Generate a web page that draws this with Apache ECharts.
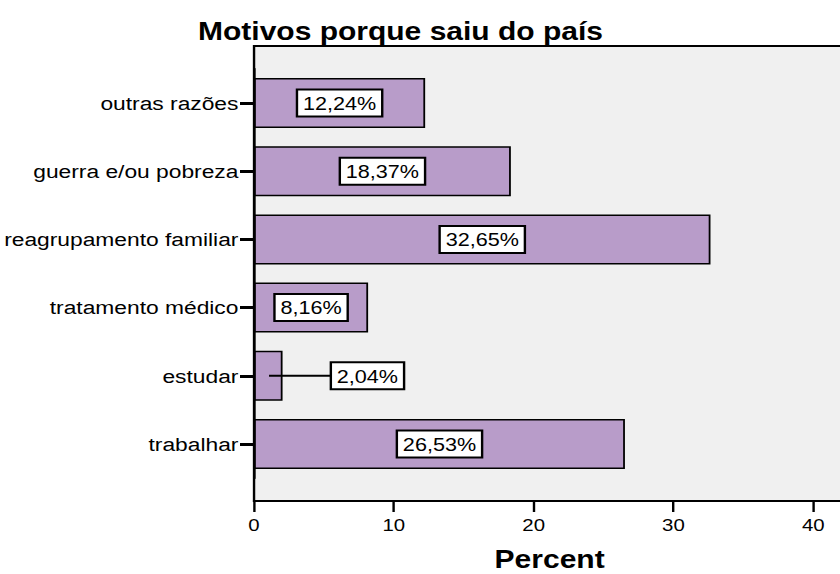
<!DOCTYPE html>
<html>
<head>
<meta charset="utf-8">
<script src="https://cdn.jsdelivr.net/npm/echarts@6/dist/echarts.min.js"></script>
<style>
  html, body { margin: 0; padding: 0; background: #fff; overflow: hidden; }
  /* the source picture is stretched sideways, so draw narrow and widen it */
  #chart { width: 700px; height: 574px; transform: scaleX(1.2); transform-origin: 0 0; }
</style>
</head>
<body>
<div id="chart"></div>
<script>
  // bottom to top, like the category axis
  const reasons = [
    "trabalhar",
    "estudar",
    "tratamento médico",
    "reagrupamento familiar",
    "guerra e/ou pobreza",
    "outras razões",
  ];
  const percents = [26.53, 2.04, 8.16, 32.65, 18.37, 12.24];
  const xTicks = [0, 10, 20, 30, 40];

  const font = "'Liberation Sans', Arial, sans-serif";
  const smallCut = 5; // bars too thin to hold their label

  var dom = document.getElementById("chart");
  var myChart = echarts.init(dom, null, { renderer: "svg" });

  const barData = percents.map((v) => {
    if (v < smallCut) {
      return {
        value: v,
        label: { position: "insideLeft", distance: 0, offset: [12.5, 0] },
      };
    }
    return v;
  });

  var option = {
    animation: false,
    textStyle: { fontFamily: font },
    title: {
      text: "Motivos porque saiu do país",
      left: 165,
      top: 18.5,
      padding: 0,
      textStyle: { fontSize: 25, fontWeight: "bold", color: "#000", fontFamily: font },
    },
    grid: [
      { left: 211.7, right: -24.3, top: 68.85, bottom: 95.85, outerBoundsMode: "none" },
      {
        left: 211.7, right: -24.3, top: 46, bottom: 73, outerBoundsMode: "none",
        show: true, backgroundColor: "#f0f0f0", borderColor: "#000", borderWidth: 2,
      },
    ],
    xAxis: [
      { gridIndex: 0, type: "value", min: 0, max: 44, show: false },
      {
        gridIndex: 1,
        type: "value",
        min: xTicks[0],
        max: 44,
        interval: xTicks[1] - xTicks[0],
        name: "Percent",
        nameLocation: "middle",
        nameGap: 48,
        nameTextStyle: {
          fontSize: 25, lineHeight: 20, fontWeight: "bold", color: "#000",
          padding: [0, 20, 0, 0],
        },
        axisLine: { onZero: false, lineStyle: { color: "#000", width: 2 } },
        axisTick: { length: 11, lineStyle: { color: "#000", width: 2 } },
        axisLabel: { fontSize: 17, color: "#000", margin: 16, showMaxLabel: false },
        splitLine: { show: false },
      },
    ],
    yAxis: [
      {
        gridIndex: 0,
        type: "category",
        data: reasons,
        axisLine: { show: true, lineStyle: { color: "#000", width: 2 } },
        axisTick: { show: true, alignWithLabel: true, length: 11.7, lineStyle: { color: "#000", width: 3 } },
        axisLabel: { fontSize: 19, color: "#000", margin: 13 },
      },
      { gridIndex: 1, type: "value", min: 0, max: 1, show: false },
    ],
    series: [
      {
        type: "bar",
        xAxisIndex: 0,
        yAxisIndex: 0,
        data: barData,
        barWidth: 50,
        itemStyle: { color: "#b89cc9", borderColor: "#000", borderWidth: 1.5 },
        label: {
          show: true,
          position: "inside",
          formatter: function (params) {
            const txt = params.value.toFixed(2).replace(".", ",") + "%";
            if (params.value < smallCut) return "{l| }{b|" + txt + "}";
            return "{b|" + txt + "}";
          },
          rich: {
            l: { width: 52.5, height: 2, backgroundColor: "#000", verticalAlign: "middle" },
            b: {
              fontSize: 18,
              lineHeight: 20,
              color: "#000",
              fontFamily: font,
              backgroundColor: "#fff",
              borderColor: "#000",
              borderWidth: 2,
              padding: [4, 4, 3, 4],
              verticalAlign: "middle",
            },
          },
        },
      },
    ],
  };

  if (option && typeof option === "object") {
    myChart.setOption(option);
  }

  window.addEventListener("resize", myChart.resize);
</script>
</body>
</html>
